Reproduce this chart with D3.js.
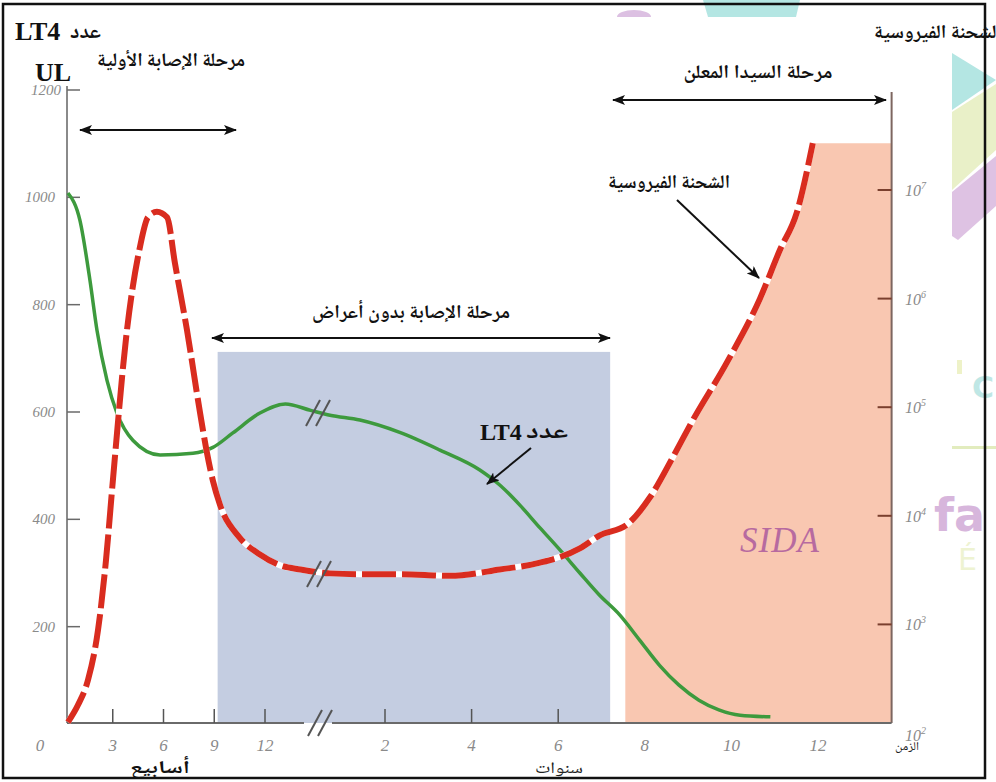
<!DOCTYPE html>
<html><head><meta charset="utf-8">
<script src="https://cdn.jsdelivr.net/npm/d3@7"></script>
<style>html,body{margin:0;padding:0;background:#fff}svg{display:block}</style>
</head><body>
<script>
// ---------- data ----------
const weekTicks = [3, 6, 9, 12];
const yearTicks = [2, 4, 6, 8, 10, 12];
const leftTicks = [200, 400, 600, 800, 1000, 1200];
const rightTicks = [1e3, 1e4, 1e5, 1e6, 1e7];
const rightTickLabels = ["3", "4", "5", "6", "7"];
// CD4 (LT4) count, per µL — weeks part then years part
const cd4Weeks = [[0.35,1008],[1.06,957],[1.65,846],[2.07,752],[2.66,659],[3.25,598],[4.2,547],[5.8,520],[7.74,523],[8.92,534],[10.1,561],[11.7,598],[13.2,615],[14.7,603]];
const cd4Years = [[0.73,594],[1.42,585],[2.34,562],[3.27,529],[4.19,492],[4.65,464],[5.12,426],[5.58,384],[6.04,343],[6.5,300],[6.95,259],[7.42,222],[7.88,175],[8.34,128],[8.79,91],[9.25,63],[9.71,45],[10.2,35],[10.9,32]];
// viral load (copies/mL) — weeks part then years part
const viralWeeks = [[0.35,126],[0.95,182],[1.54,309],[2.13,890],[2.6,3900],[3.01,21400],[3.84,513000],[4.61,3.0e6],[5.08,5.6e6],[5.61,6.3e6],[6.21,5.6e6],[6.68,2.1e6],[7.39,5.1e5],[8.16,8.9e4],[8.57,3.8e4],[8.92,2.1e4],[9.34,1.26e4],[10.5,6300],[11.7,4400],[12.9,3500],[14.1,3200]];
const viralYears = [[0.73,2950],[1.42,2900],[2.34,2900],[3.5,2800],[4.65,3200],[5.58,3700],[6.5,5000],[6.96,6600],[7.59,8300],[8.12,14800],[8.65,34700],[9.11,7.6e4],[9.9,2.6e5],[10.66,1.0e6],[11.12,2.8e6],[11.51,6.2e6],[11.88,2.7e7]];
// phases
const phaseAsymptomatic = [9.2, 7.2];   // starts week 9.2, ends year 7.2
const phaseAids = [7.55, 13.7];         // years
const viralPlateauTop = 2.7e7;
const blueTop = 712;                    // cell count at blue box top

// ---------- scales ----------
const W = 996, H = 782;
const xW = d3.scaleLinear().domain([0, 12]).range([62, 265]);
const xY = d3.scaleLinear().domain([2, 12]).range([385, 818]);
const yL = d3.scaleLinear().domain([0, 1200]).range([734, 90]);
const yR = d3.scaleLog().domain([1e2, 1e7]).range([733, 190]);
const axisY = 723, leftX = 67, rightX = xY(phaseAids[1]);

const svg = d3.select("body").append("svg").attr("width", W).attr("height", H);
const defs = svg.append("defs");
defs.append("marker").attr("id", "ah").attr("viewBox", "0 0 13 10").attr("refX", 12).attr("refY", 5)
  .attr("markerWidth", 13).attr("markerHeight", 10).attr("markerUnits", "userSpaceOnUse")
  .attr("orient", "auto-start-reverse")
  .append("path").attr("d", "M0,0 L13,5 L0,10 L3,5 Z").attr("fill", "#111");

// ---------- watermark ----------
const wm = svg.append("g");
wm.append("path").attr("d", "M703,0 L800,0 L796,17 L708,17 Z").attr("fill", "#b4e6e3");
wm.append("path").attr("d", "M617,17 A17,7 0 0 1 651,17 Z").attr("fill", "#dcc0e2");
wm.append("path").attr("d", "M952,53 L996,80 L952,110 Z").attr("fill", "#b4e6e3");
wm.append("path").attr("d", "M952,112 L996,84 L996,150 L952,190 Z").attr("fill", "#e9f0c8");
wm.append("path").attr("d", "M952,192 L996,156 L996,206 L958,240 L952,236 Z").attr("fill", "#dec2e3");
wm.append("rect").attr("x", 952).attr("y", 446).attr("width", 44).attr("height", 3).attr("fill", "#e2ecbe");
wm.append("text").attr("x", 934).attr("y", 531).text("fa").attr("font-family", "DejaVu Sans").attr("font-weight", "bold").attr("font-size", 46).attr("fill", "#d7b6dc");
wm.append("text").attr("x", 958).attr("y", 570).text("É").attr("font-family", "DejaVu Sans").attr("font-size", 30).attr("fill", "#eef3d2");
wm.append("text").attr("x", 972).attr("y", 398).text("C").attr("font-family", "DejaVu Sans").attr("font-weight", "bold").attr("font-size", 30).attr("fill", "#bfe7e5");
wm.append("rect").attr("x", 957).attr("y", 360).attr("width", 5).attr("height", 14).attr("fill", "#eef2c8");

// ---------- phase regions ----------
svg.append("rect").attr("x", xW(phaseAsymptomatic[0])).attr("y", yL(blueTop))
  .attr("width", xY(phaseAsymptomatic[1]) - xW(phaseAsymptomatic[0]))
  .attr("height", axisY - yL(blueTop)).attr("fill", "#c4cde1");

const viralPts = viralWeeks.map(d => [xW(d[0]), yR(d[1])]).concat(viralYears.map(d => [xY(d[0]), yR(d[1])]));
const cd4Pts = cd4Weeks.map(d => [xW(d[0]), yL(d[1])]).concat(cd4Years.map(d => [xY(d[0]), yL(d[1])]));
const line = d3.line().curve(d3.curveMonotoneX);

defs.append("clipPath").attr("id", "aidsClip").append("rect")
  .attr("x", xY(phaseAids[0])).attr("y", 0).attr("width", rightX - xY(phaseAids[0])).attr("height", axisY);
const topY = yR(viralPlateauTop);
svg.append("path").attr("clip-path", "url(#aidsClip)").attr("fill", "#f9c7b1")
  .attr("d", line(viralPts) + `L${rightX},${topY}L${rightX},${axisY}L${viralPts[0][0]},${axisY}Z`);

// ---------- axes ----------
const ax = svg.append("g");
ax.append("line").attr("x1", leftX).attr("x2", leftX).attr("y1", 86).attr("y2", axisY).attr("stroke", "#8a8a8a").attr("stroke-width", 2);
ax.append("line").attr("x1", rightX).attr("x2", rightX).attr("y1", 92).attr("y2", axisY).attr("stroke", "#7d6660").attr("stroke-width", 2);
ax.append("line").attr("x1", leftX).attr("x2", 304).attr("y1", axisY).attr("y2", axisY).attr("stroke", "#6a6a6a").attr("stroke-width", 2);
ax.append("line").attr("x1", 332).attr("x2", rightX).attr("y1", axisY).attr("y2", axisY).attr("stroke", "#6a6a6a").attr("stroke-width", 2);

const lab = { "font-family": "Liberation Serif", "font-style": "italic", "fill": "#8a8a8a" };
function applyAttrs(sel, o) { for (const k in o) sel.attr(k, o[k]); return sel; }

leftTicks.forEach(v => {
  ax.append("line").attr("x1", leftX).attr("x2", leftX + 13).attr("y1", yL(v)).attr("y2", yL(v)).attr("stroke", "#6a6a6a").attr("stroke-width", 1.5);
  applyAttrs(ax.append("text"), lab).attr("x", v === 1200 ? 61 : 55).attr("y", yL(v) + 5).attr("text-anchor", "end").attr("font-size", 15).text(v);
});
rightTicks.forEach((v, i) => {
  ax.append("line").attr("x1", rightX - 14).attr("x2", rightX).attr("y1", yR(v)).attr("y2", yR(v)).attr("stroke", "#7a3f2e").attr("stroke-width", 2);
  const t = applyAttrs(ax.append("text"), lab).attr("x", 905).attr("y", yR(v) + 6).attr("font-size", 16);
  t.append("tspan").text("10");
  t.append("tspan").attr("font-size", 10).attr("dy", -7).text(rightTickLabels[i]);
});
{
  const t = applyAttrs(ax.append("text"), lab).attr("x", 905).attr("y", 741).attr("font-size", 16);
  t.append("tspan").text("10");
  t.append("tspan").attr("font-size", 10).attr("dy", -7).text("2");
}
weekTicks.forEach(w => {
  ax.append("line").attr("x1", xW(w)).attr("x2", xW(w)).attr("y1", axisY - 14).attr("y2", axisY).attr("stroke", "#555").attr("stroke-width", 1.5);
  applyAttrs(ax.append("text"), lab).attr("x", xW(w)).attr("y", 751).attr("text-anchor", "middle").attr("font-size", 17).text(w);
});
yearTicks.forEach(y => {
  if (y <= 6) ax.append("line").attr("x1", xY(y)).attr("x2", xY(y)).attr("y1", axisY - 14).attr("y2", axisY).attr("stroke", "#555").attr("stroke-width", 1.5);
  applyAttrs(ax.append("text"), lab).attr("x", xY(y)).attr("y", 751).attr("text-anchor", "middle").attr("font-size", 17).text(y);
});
applyAttrs(ax.append("text"), lab).attr("x", 40).attr("y", 751).attr("text-anchor", "middle").attr("font-size", 17).text("0");

// ---------- curves ----------
svg.append("path").attr("d", line(cd4Pts)).attr("fill", "none").attr("stroke", "#3d9a3d").attr("stroke-width", 3.5);
svg.append("path").attr("d", line(viralPts)).attr("fill", "none").attr("stroke", "#fff").attr("stroke-width", 6);
svg.append("path").attr("d", line(viralPts)).attr("fill", "none").attr("stroke", "#d92c1f").attr("stroke-width", 6)
  .attr("stroke-dasharray", "34,6");

// break marks
function brk(cx, cy) {
  [-5, 5].forEach(o => svg.append("line").attr("x1", cx + o - 7).attr("y1", cy + 13).attr("x2", cx + o + 7).attr("y2", cy - 13)
    .attr("stroke", "#555").attr("stroke-width", 2));
}
brk(320, axisY);
brk(318, 413);
brk(319, 574);

// ---------- arrows ----------
function arrow(x1, y1, x2, y2, both) {
  const l = svg.append("line").attr("x1", x1).attr("y1", y1).attr("x2", x2).attr("y2", y2)
    .attr("stroke", "#111").attr("stroke-width", 2).attr("marker-end", "url(#ah)");
  if (both) l.attr("marker-start", "url(#ah)");
}
arrow(80, 130, 236, 130, true);
arrow(212, 338, 610, 338, true);
arrow(613, 100, 886, 100, true);
arrow(677, 200, 759, 278, false);
arrow(531, 448, 487, 484, false);

// ---------- texts ----------
const ar = { "font-family": "'Noto Naskh Arabic','Noto Sans Arabic','DejaVu Sans'", "font-weight": "bold", "fill": "#111" };
const serifB = { "font-family": "Liberation Serif", "font-weight": "bold", "fill": "#111" };
function arText(x, y, anchor, size, len, str, extra) {
  const t = applyAttrs(svg.append("text"), Object.assign({}, ar, extra || {}))
    .attr("x", x).attr("y", y).attr("text-anchor", anchor).attr("font-size", size).text(str);
  if (len) t.attr("textLength", len).attr("lengthAdjust", "spacingAndGlyphs");
  return t;
}
applyAttrs(svg.append("text"), serifB).attr("x", 15).attr("y", 40).attr("font-size", 26).text("LT4");
arText(101, 38, "end", 21, 31, "عدد");
applyAttrs(svg.append("text"), serifB).attr("x", 35).attr("y", 81).attr("font-size", 26).text("UL");
arText(171, 66, "middle", 19, 148, "مرحلة الإصابة الأولية");
arText(411, 318, "middle", 19, 198, "مرحلة الإصابة بدون أعراض");
arText(758, 78, "middle", 19, 149, "مرحلة السيدا المعلن");
arText(1002, 38, "end", 19, 128, "الشحنة الفيروسية");
arText(669, 188, "middle", 19, 122, "الشحنة الفيروسية");
applyAttrs(svg.append("text"), serifB).attr("x", 480).attr("y", 440).attr("font-size", 24).text("LT4");
arText(568, 438, "end", 22, 42, "عدد");
svg.append("text").attr("x", 740).attr("y", 552).attr("font-family", "Liberation Serif").attr("font-style", "italic")
  .attr("font-size", 35).attr("letter-spacing", 1).attr("fill", "#b76aa0").text("SIDA");
arText(160, 773, "middle", 18, 60, "أسابيع");
arText(559, 773, "middle", 16, 48, "سنوات", { "font-weight": "normal", "fill": "#222" });
arText(907, 750, "middle", 12, 24, "الزمن", { "font-weight": "normal", "fill": "#222" });

// ---------- frame ----------
svg.append("rect").attr("x", 3).attr("y", 4).attr("width", 982).attr("height", 774).attr("fill", "none").attr("stroke", "#111").attr("stroke-width", 2.5);
</script>
</body></html>
